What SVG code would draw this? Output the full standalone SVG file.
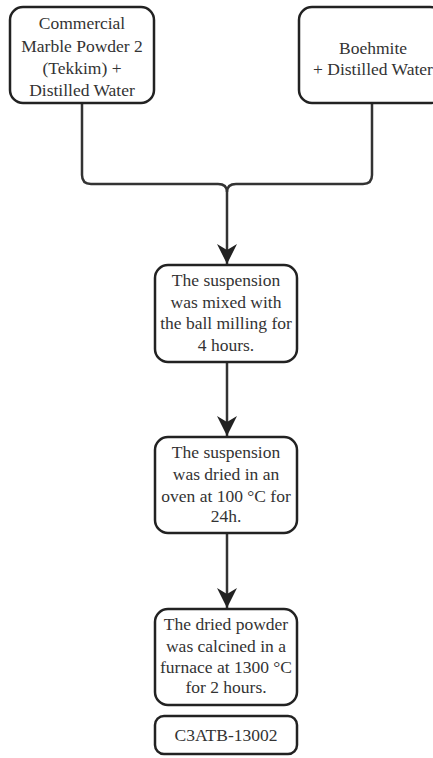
<svg xmlns="http://www.w3.org/2000/svg" width="433" height="758" viewBox="0 0 433 758" font-family="Liberation Serif, Tinos, Times New Roman, DejaVu Serif, Noto Serif, serif">
<style>
.box{fill:#fff;stroke:#222;stroke-width:2.5}
.t{font-size:17.5px;fill:#333;text-anchor:middle}
.c{fill:none;stroke:#333;stroke-width:2.5}
</style>
<defs>
<marker id="arr" viewBox="0 0 20 20" refX="20" refY="10" markerWidth="20" markerHeight="20" markerUnits="userSpaceOnUse" orient="auto">
<path d="M0,0 L20,10 L0,20 L6,10 Z" fill="#222"/>
</marker>
</defs>
<rect width="433" height="758" fill="#fff"/>
<g id="connectors">
<path class="c" d="M82,104 V175 Q82,184 91,184 H218 Q227,184 227,192"/>
<path class="c" d="M372,104 V175 Q372,184 363,184 H236 Q227,184 227,192"/>
<path class="c" d="M227,192 V264" marker-end="url(#arr)"/>
<path class="c" d="M227,362 V436" marker-end="url(#arr)"/>
<path class="c" d="M227,533 V608" marker-end="url(#arr)"/>
</g>
<g id="n1">
<rect class="box" x="10" y="7" width="144" height="96" rx="13"/>
<text class="t" x="82" y="29">Commercial</text>
<text class="t" x="82" y="52">Marble Powder 2</text>
<text class="t" x="82" y="74">(Tekkim) +</text>
<text class="t" x="82" y="96">Distilled Water</text>
</g>
<g id="n2">
<rect class="box" x="299" y="7" width="144" height="96" rx="13"/>
<text class="t" x="373" y="54">Boehmite</text>
<text class="t" x="373" y="75">+ Distilled Water</text>
</g>
<g id="n3">
<rect class="box" x="155" y="265" width="142" height="97" rx="13"/>
<text class="t" x="226" y="286">The suspension</text>
<text class="t" x="226" y="308">was mixed with</text>
<text class="t" x="226" y="329">the ball milling for</text>
<text class="t" x="226" y="351">4 hours.</text>
</g>
<g id="n4">
<rect class="box" x="155" y="437" width="142" height="96" rx="13"/>
<text class="t" x="226" y="458">The suspension</text>
<text class="t" x="226" y="480">was dried in an</text>
<text class="t" x="226" y="502">oven at 100 °C for</text>
<text class="t" x="226" y="522">24h.</text>
</g>
<g id="n5">
<rect class="box" x="155" y="609" width="142" height="96" rx="13"/>
<text class="t" x="226" y="630">The dried powder</text>
<text class="t" x="226" y="652">was calcined in a</text>
<text class="t" x="226" y="673">furnace at 1300 °C</text>
<text class="t" x="226" y="693">for 2 hours.</text>
</g>
<g id="n6">
<rect class="box" x="155" y="716" width="142" height="38" rx="9"/>
<text class="t" x="226" y="741">C3ATB-13002</text>
</g>
</svg>
